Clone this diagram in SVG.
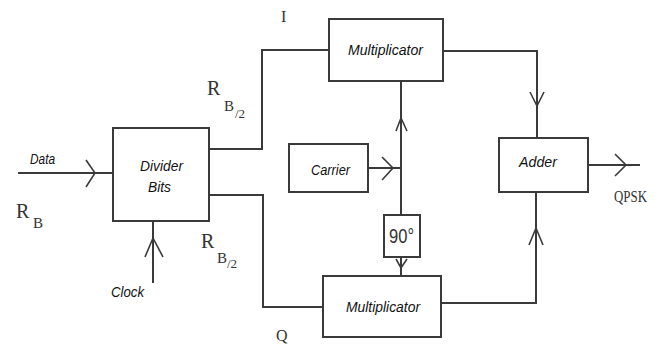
<svg xmlns="http://www.w3.org/2000/svg" width="658" height="345" viewBox="0 0 658 345">
<style>
.box{fill:#fff;stroke:#3a3a3a;stroke-width:2}
.ln{fill:none;stroke:#3a3a3a;stroke-width:2}
.ar{fill:none;stroke:#3a3a3a;stroke-width:1.6}
.lbl{font-family:"Liberation Sans Narrow","Liberation Sans",Arial,sans-serif;font-style:italic;font-size:15px;fill:#111}
.serif{font-family:"Liberation Serif","Times New Roman",serif;fill:#333}
.deg{font-family:"Liberation Sans Narrow","Liberation Sans",Arial,sans-serif;font-size:21px;fill:#333}
</style>
<rect width="658" height="345" fill="#fff"/>
<g id="connectors">
<path class="ln" d="M18,173 H113"/>
<path class="ar" d="M86,160 L95,173 L86,187"/>
<path class="ln" d="M153,221 V283"/>
<path class="ar" d="M145,257 L153,238 L163,257"/>
<path class="ln" d="M209,149 H262 V50 H329"/>
<path class="ln" d="M209,195 H263 V307 H323"/>
<path class="ln" d="M443,51 H537 V138"/>
<path class="ar" d="M530,92 L537,106 L544,92"/>
<path class="ln" d="M441,303 H536 V192"/>
<path class="ar" d="M529,245 L536,228 L543,245"/>
<path class="ln" d="M588,165 H640"/>
<path class="ar" d="M615,154 L626,165 L615,176"/>
<path class="ln" d="M368,168 H401"/>
<path class="ar" d="M382,157 L393,168 L382,180"/>
<path class="ln" d="M401,81 V215"/>
<path class="ar" d="M396,131 L401,118 L407,131"/>
<path class="ln" d="M401,257 V276"/>
<path class="ar" d="M396,259 L401,268 L407,259"/>
</g>
<g id="divider">
<rect class="box" x="113" y="128" width="96" height="93"/>
<text class="lbl" x="140" y="171" textLength="43" lengthAdjust="spacingAndGlyphs">Divider</text>
<text class="lbl" x="148" y="192" textLength="23" lengthAdjust="spacingAndGlyphs">Bits</text>
</g>
<g id="mult-top">
<rect class="box" x="329" y="19" width="114" height="62"/>
<text class="lbl" x="348" y="55" textLength="75" lengthAdjust="spacingAndGlyphs">Multiplicator</text>
</g>
<g id="carrier">
<rect class="box" x="289" y="144" width="79" height="48"/>
<text class="lbl" x="311" y="175" textLength="39" lengthAdjust="spacingAndGlyphs">Carrier</text>
</g>
<g id="phase90">
<rect class="box" x="384" y="215" width="36" height="42"/>
<text class="deg" x="389" y="243" textLength="25" lengthAdjust="spacingAndGlyphs">90°</text>
</g>
<g id="mult-bottom">
<rect class="box" x="323" y="276" width="118" height="61"/>
<text class="lbl" x="346" y="312" textLength="74" lengthAdjust="spacingAndGlyphs">Multiplicator</text>
</g>
<g id="adder">
<rect class="box" x="499" y="138" width="89" height="54"/>
<text class="lbl" x="519" y="167" textLength="38" lengthAdjust="spacingAndGlyphs">Adder</text>
</g>
<g id="labels">
<text class="lbl" x="30" y="164" font-size="14" textLength="25" lengthAdjust="spacingAndGlyphs">Data</text>
<text class="lbl" x="111" y="297" textLength="33" lengthAdjust="spacingAndGlyphs">Clock</text>
<text class="serif" x="16" y="218" font-size="20">R</text>
<text class="serif" x="33" y="228" font-size="15">B</text>
<text class="serif" x="207" y="95" font-size="20">R</text>
<text class="serif" x="224" y="111" font-size="15">B</text>
<text class="serif" x="235" y="118" font-size="13">/2</text>
<text class="serif" x="201" y="248" font-size="20">R</text>
<text class="serif" x="217" y="263" font-size="15">B</text>
<text class="serif" x="227" y="268" font-size="13">/2</text>
<text class="serif" x="281" y="22" font-size="16">I</text>
<text class="serif" x="276" y="341" font-size="16">Q</text>
<text class="serif" x="614" y="202" font-size="17" textLength="33" lengthAdjust="spacingAndGlyphs">QPSK</text>
</g>
</svg>
